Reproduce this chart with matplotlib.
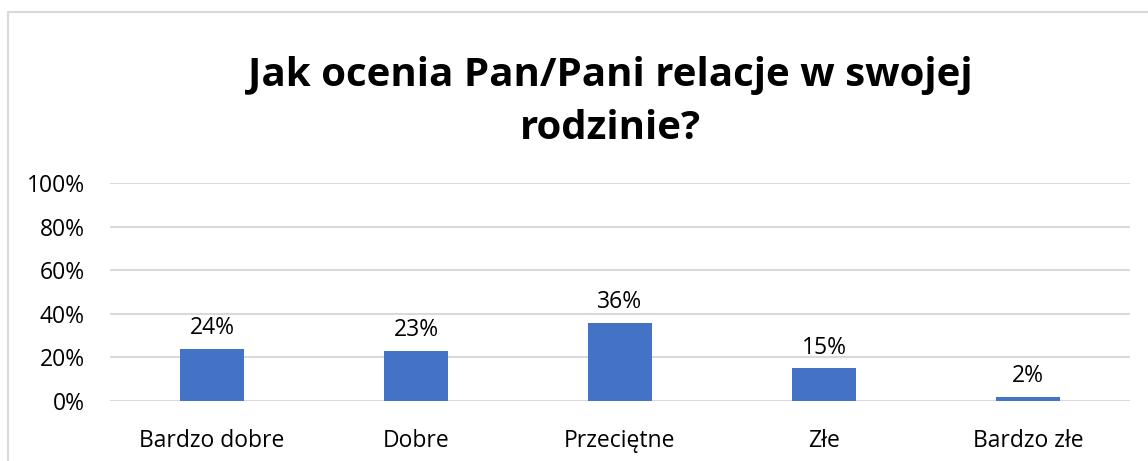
import matplotlib.pyplot as plt
from matplotlib.patches import Rectangle

categories = ['Bardzo dobre', 'Dobre', 'Przeciętne', 'Złe', 'Bardzo złe']
values = [24, 23, 36, 15, 2]
yticks = [0, 20, 40, 60, 80, 100]

plt.rcParams['font.family'] = ['Open Sans', 'DejaVu Sans']

fig = plt.figure(figsize=(11.48, 4.61), dpi=100)
ax = fig.add_axes([110 / 1148, 1 - 401 / 461, 1020 / 1148, 218 / 461])

# chart border like Excel
fig.patches.append(Rectangle((8 / 1148, -0.1), 1.2, 1 - 12 / 461 + 0.1,
                             transform=fig.transFigure, fill=False,
                             edgecolor='#d9d9d9', linewidth=1.5))

x = range(len(categories))
ax.bar(x, values, width=0.31, color='#4472c4', zorder=3)
for i, v in enumerate(values):
    ax.text(i, v + 4, f'{v}%', ha='center', va='bottom', fontsize=16.5)

ax.set_xlim(-0.5, len(categories) - 0.5)
ax.set_ylim(0, 100)
ax.set_yticks(yticks)
ax.set_yticklabels([f'{t}%' for t in yticks], fontsize=16.5)
ax.set_xticks(list(x))
ax.set_xticklabels(categories, fontsize=16.5)
ax.tick_params(length=0)
ax.tick_params(axis='x', pad=20)
ax.tick_params(axis='y', pad=18)
ax.grid(axis='y', color='#d9d9d9', linewidth=1.5, zorder=0)
for s in ax.spines.values():
    s.set_visible(False)

fig.text(610 / 1148, 1 - 102 / 461, 'Jak ocenia Pan/Pani relacje w swojej\nrodzinie?',
         ha='center', va='center', fontsize=29, fontweight='bold',
         linespacing=1.45)

fig.savefig('out.png', dpi=100)
